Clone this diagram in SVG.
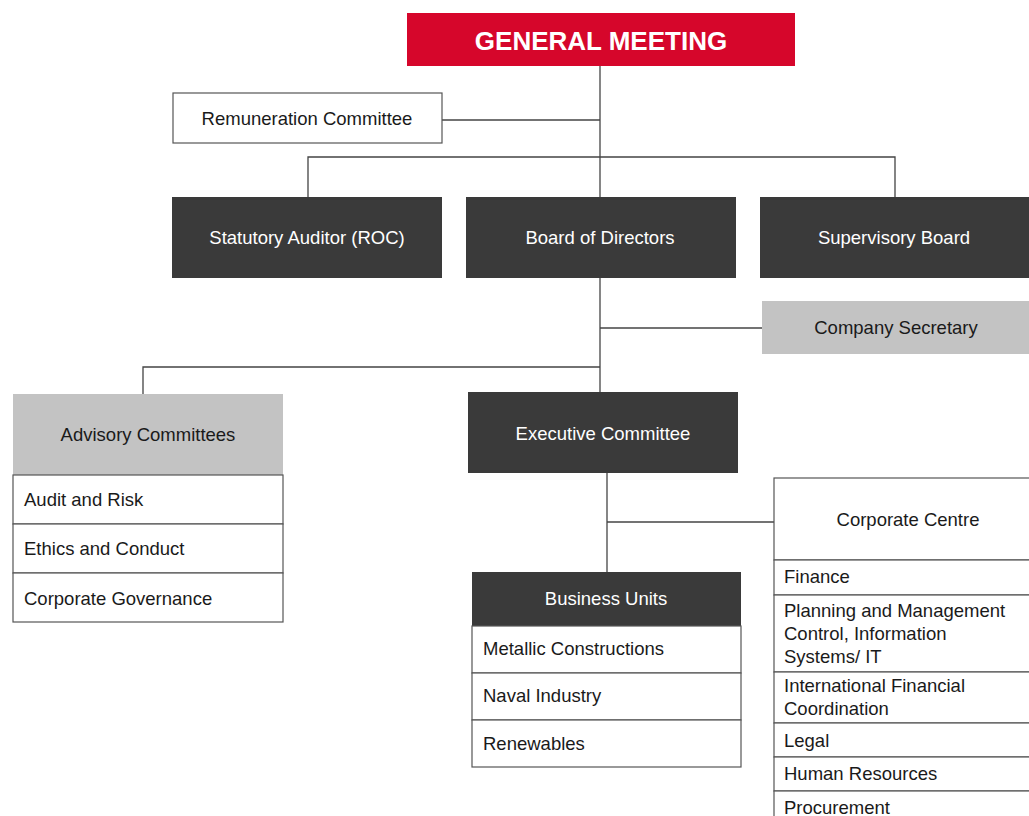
<svg xmlns="http://www.w3.org/2000/svg" width="1029" height="816" viewBox="0 0 1029 816">
  <style>
    text { font-family: "Liberation Sans", Arial, sans-serif; font-size: 18.5px; }
    .c { text-anchor: middle; }
    .w { fill: #ffffff; }
    .k { fill: #1a1a1a; }
    .dark { fill: #3a3a3a; }
    .grey { fill: #c3c3c3; }
    .box { fill: #ffffff; stroke: #555555; stroke-width: 1.2; }
    .conn { fill: none; stroke: #444444; stroke-width: 1.3; }
  </style>
  <rect width="1029" height="816" fill="#ffffff"/>

  <!-- connectors -->
  <g id="connectors" class="conn">
    <path d="M600 66 V197"/>
    <path d="M442 120 H600"/>
    <path d="M308 197 V157 H895 V197"/>
    <path d="M600 278 V392"/>
    <path d="M600 328 H762"/>
    <path d="M600 367 H143 V394"/>
    <path d="M607 473 V572"/>
    <path d="M607 522 H774"/>
  </g>

  <g id="general-meeting">
    <rect x="407" y="13" width="388" height="53" fill="#d6062b"/>
    <text x="601" y="50" class="c w" style="font-size:26px;font-weight:bold">GENERAL MEETING</text>
  </g>

  <g id="remuneration-committee">
    <rect x="173" y="93" width="269" height="50" class="box"/>
    <text x="307" y="124.5" class="c k">Remuneration Committee</text>
  </g>

  <g id="statutory-auditor">
    <rect x="172" y="197" width="270" height="81" class="dark"/>
    <text x="307" y="244" class="c w">Statutory Auditor (ROC)</text>
  </g>

  <g id="board-of-directors">
    <rect x="466" y="197" width="270" height="81" class="dark"/>
    <text x="600" y="244" class="c w">Board of Directors</text>
  </g>

  <g id="supervisory-board">
    <rect x="760" y="197" width="269" height="81" class="dark"/>
    <text x="894" y="244" class="c w">Supervisory Board</text>
  </g>

  <g id="company-secretary">
    <rect x="762" y="301" width="267" height="53" class="grey"/>
    <text x="896" y="334" class="c k">Company Secretary</text>
  </g>

  <g id="advisory-committees">
    <rect x="13" y="394" width="270" height="81" class="grey"/>
    <text x="148" y="441" class="c k">Advisory Committees</text>
    <rect x="13" y="475" width="270" height="49" class="box"/>
    <rect x="13" y="524" width="270" height="49" class="box"/>
    <rect x="13" y="573" width="270" height="49" class="box"/>
    <text x="24" y="506" class="k">Audit and Risk</text>
    <text x="24" y="555" class="k">Ethics and Conduct</text>
    <text x="24" y="605" class="k">Corporate Governance</text>
  </g>

  <g id="executive-committee">
    <rect x="468" y="392" width="270" height="81" class="dark"/>
    <text x="603" y="440" class="c w">Executive Committee</text>
  </g>

  <g id="business-units">
    <rect x="472" y="572" width="269" height="54" class="dark"/>
    <text x="606" y="605" class="c w">Business Units</text>
    <rect x="472" y="626" width="269" height="47" class="box"/>
    <rect x="472" y="673" width="269" height="47" class="box"/>
    <rect x="472" y="720" width="269" height="47" class="box"/>
    <text x="483" y="655" class="k">Metallic Constructions</text>
    <text x="483" y="702" class="k">Naval Industry</text>
    <text x="483" y="750" class="k">Renewables</text>
  </g>

  <g id="corporate-centre">
    <rect x="774" y="478" width="260" height="82" class="box"/>
    <text x="908" y="526" class="c k">Corporate Centre</text>
    <rect x="774" y="560" width="260" height="35" class="box"/>
    <rect x="774" y="595" width="260" height="77" class="box"/>
    <rect x="774" y="672" width="260" height="51" class="box"/>
    <rect x="774" y="723" width="260" height="34" class="box"/>
    <rect x="774" y="757" width="260" height="34" class="box"/>
    <rect x="774" y="791" width="260" height="40" class="box"/>
    <text x="784" y="583" class="k">Finance</text>
    <text x="784" y="617" class="k">Planning and Management</text>
    <text x="784" y="640" class="k">Control, Information</text>
    <text x="784" y="663" class="k">Systems/ IT</text>
    <text x="784" y="692" class="k">International Financial</text>
    <text x="784" y="715" class="k">Coordination</text>
    <text x="784" y="747" class="k">Legal</text>
    <text x="784" y="780" class="k">Human Resources</text>
    <text x="784" y="814" class="k">Procurement</text>
  </g>
</svg>
